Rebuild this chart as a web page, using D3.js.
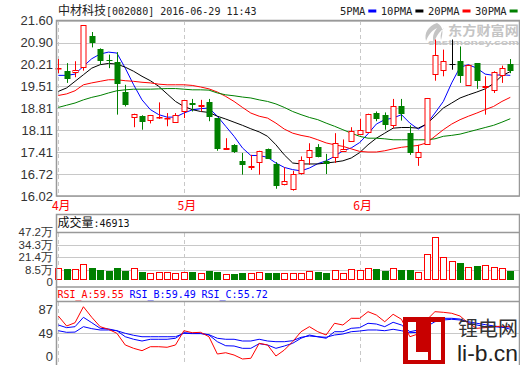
<!DOCTYPE html>
<html><head><meta charset="utf-8">
<script src="https://cdn.jsdelivr.net/npm/d3@7"></script>
<style>body{margin:0;background:#fff}svg{display:block}</style>
</head><body><svg id="c" width="520" height="365"></svg>
<script>
// ---------- data ----------
const openP  = [20.08,20.01,19.97,20.12,21.10,20.70,20.34,20.28,19.33,18.52,18.56,18.44,18.53,18.49,18.38,18.71,18.98,18.90,19.01,18.50,17.53,17.63,17.12,16.93,17.10,17.52,17.05,16.40,16.25,16.75,17.25,17.57,17.12,17.25,17.44,17.78,18.00,18.06,18.66,18.61,18.29,18.87,18.02,17.25,17.67,19.90,20.02,20.22,20.31,19.54,20.25,19.50,19.40,19.86,20.22];
const highP  = [20.38,20.25,20.31,21.45,21.24,20.72,20.52,20.60,19.56,18.64,18.59,18.60,19.00,18.66,18.66,19.07,19.11,19.08,19.11,18.50,17.86,17.67,17.39,17.33,17.46,17.53,17.10,16.93,16.82,17.28,17.70,17.67,17.36,18.02,17.82,18.21,18.48,18.64,18.71,18.68,19.11,19.11,18.27,17.65,19.14,21.00,20.68,21.00,20.78,20.20,20.25,19.83,19.99,20.17,20.38];
const lowP   = [19.93,19.62,19.80,20.01,20.75,20.20,20.09,18.61,18.87,18.21,18.13,18.33,18.47,18.24,18.38,18.50,18.71,18.71,18.40,17.46,17.53,17.39,16.70,16.85,16.70,17.21,16.25,16.36,16.19,16.70,17.01,17.25,16.72,17.07,17.44,17.74,17.97,18.06,18.40,18.13,18.18,18.42,17.33,16.98,17.65,19.69,19.83,20.04,19.62,19.54,19.43,18.61,19.30,19.62,19.93];
const closeP = [20.10,19.74,20.03,21.45,20.89,20.33,20.32,19.59,18.92,18.64,18.37,18.59,18.55,18.51,18.59,19.07,18.91,18.92,18.52,17.52,17.55,17.42,17.01,16.99,17.44,17.21,16.35,16.49,16.73,17.17,17.49,17.25,17.04,17.71,17.51,18.08,18.11,18.64,18.48,18.29,18.87,18.63,17.39,17.41,19.14,20.50,20.31,20.22,19.83,20.20,19.69,19.52,19.96,20.09,20.01];

const ma5  = [19.86,19.86,19.90,20.15,20.39,20.54,20.60,20.57,20.09,19.56,19.08,18.77,18.61,18.53,18.53,18.66,18.76,18.80,18.82,18.56,18.24,17.92,17.55,17.31,17.31,17.25,17.07,16.93,16.86,16.82,16.91,17.05,17.14,17.28,17.46,17.55,17.72,18.00,18.31,18.45,18.50,18.61,18.34,18.15,18.31,18.66,19.03,19.62,20.12,20.20,20.09,19.90,19.86,19.88,19.86];
const ma10 = [19.35,19.46,19.67,19.88,20.09,20.20,20.24,20.22,20.12,19.99,19.83,19.69,19.51,19.27,19.03,18.87,18.77,18.71,18.68,18.56,18.47,18.37,18.27,18.16,18.06,17.92,17.65,17.33,17.07,17.04,17.04,17.04,17.07,17.10,17.14,17.23,17.40,17.65,17.86,18.02,18.18,18.20,18.20,18.18,18.31,18.56,18.82,18.98,19.14,19.24,19.33,19.43,19.60,19.85,19.98];
const ma20 = [19.22,19.27,19.37,19.56,19.62,19.67,19.72,19.72,19.69,19.67,19.64,19.62,19.58,19.56,19.56,19.56,19.54,19.49,19.43,19.33,19.19,19.03,18.84,18.66,18.56,18.50,18.34,18.15,18.02,17.95,17.90,17.81,17.71,17.65,17.60,17.52,17.44,17.42,17.42,17.46,17.52,17.57,17.60,17.63,17.71,17.92,18.13,18.31,18.45,18.56,18.66,18.77,18.87,19.03,19.16];
const ma30 = [18.84,18.91,18.98,19.08,19.16,19.22,19.30,19.37,19.40,19.42,19.42,19.42,19.43,19.44,19.44,19.42,19.40,19.40,19.39,19.30,19.24,19.21,19.17,19.14,19.08,19.03,18.95,18.84,18.71,18.61,18.52,18.45,18.34,18.24,18.13,18.02,17.92,17.86,17.86,17.84,17.81,17.81,17.81,17.81,17.81,17.84,17.92,17.95,17.99,18.06,18.13,18.20,18.27,18.37,18.48];

// volume in 万
const volume = [10.4,9.7,9.7,14.4,10.7,8.6,7.9,10.7,7.9,10.4,6.9,5.9,6.6,6.6,5.9,6.6,6.9,5.9,7.9,6.9,4.6,4.6,5.9,5.9,6.9,5.9,5.9,5.9,5.9,5.9,7.9,6.9,5.9,8.6,5.9,9.7,8.6,10.7,9.7,7.9,10.7,8.6,8.6,6.6,24.9,41.8,21.5,17.5,16.1,11.7,12.7,13.7,11.7,10.7,7.9];

const rsiA = [76.9,60.8,66.1,91.9,74.8,59.7,55.5,49,30.2,24.8,21,27.4,27.4,26.5,30.2,53.2,50,50.6,43.5,15.6,17.7,14,7.6,8.7,32.9,30.2,12.4,22,35.5,51.6,59.7,51.6,46.3,65.2,62.4,73.2,73.2,83.9,78.5,67.7,79.7,71.6,43.5,48,70.5,83.9,82.9,81.3,76.9,65.2,57.1,58.1,59.7,60.5,59.55];
const rsiB = [62.4,58.1,59.7,74.8,66.1,57.1,56,53.2,43.5,39.4,36.6,39.4,39.4,39.4,41,50,49,49,46.3,35.5,29,28.5,24.8,24.8,32.3,30.2,24.8,28.5,32.9,41,46.3,43.5,41,51.6,51.6,57.1,58.1,65.2,64,59.7,66.8,62.4,51.6,54.4,67.7,72,73.2,73.2,72,66.1,62.4,59.7,59.7,58.7,59.49];
const rsiC = [53.2,50.6,51,59.7,56.5,54.4,54.4,53.2,49,45.8,43.5,43.5,43.5,43.5,43.5,49,48.5,48.5,46.8,41,39.4,39.4,36.6,36.6,39.4,36.6,35.5,35.5,37.1,42.6,44.7,43.5,42.6,46.3,47.9,51.6,52.7,54.4,54.4,53.2,55.5,53.2,50,50.6,60,67.7,70.5,71.6,70.5,67.7,65.2,63,61,59,55.72];

const priceTicks = [21.60,20.90,20.21,19.51,18.81,18.11,17.41,16.72,16.02];
const volTicks = [47.2,34.3,21.4,8.5,0];
const volTickLabels = ["47.2万","34.3万","21.4万","8.5万","0"];
const rsiTicks = [87,49,0];
const monthIdx = [0,15,36];
const monthLabels = ["4月","5月","6月"];
const maNames = ["5PMA","10PMA","20PMA","30PMA"];
const maColors = ["#0000ff","#000000","#ff0000","#008000"];
const stockTitle = ["中材科技","[002080] 2016-06-29 11:43"];
const volTitle = ["成交量",":46913"];
const rsiNames = ["RSI_A","RSI_B","RSI_C"];
const rsiLast = ["59.55","59.49","55.72"];
const rsiColors = ["#ff0000","#0000ff","#0000ff"];

// ---------- layout ----------
const svg = d3.select("#c");
const L = 56.5, R = 519.5;
const CJK = "'Noto Sans CJK SC', sans-serif";
const MONO = "'DejaVu Sans Mono', monospace";
const SANS = "'Liberation Sans', Arial, sans-serif";
const n = closeP.length;
const x = d3.scaleLinear().domain([0, n-1]).range([58.3, 510.3]);
const px = i => Math.round(x(i)) + 0.5;

const yP = d3.scaleLinear().domain([16.02, 21.60]).range([196, 20.7]);
const yV = d3.scaleLinear().domain([-1.5, 47.2]).range([280, 232]);
const yR = d3.scaleLinear().domain([0, 100]).range([363.7, 301.7]);
const snap = v => Math.round(v) + 0.5;

// ---- title / legend ----
const t = svg.append("text").attr("x", 58).attr("y", 15).attr("fill", "#222");
t.append("tspan").attr("font-family", CJK).attr("font-size", 12).text(stockTitle[0]);
t.append("tspan").attr("font-family", MONO).attr("font-size", 10).text(stockTitle[1]);

let lx = 340;
maNames.forEach((nm, k) => {
  const tt = svg.append("text").attr("x", lx).attr("y", 15).attr("font-family", MONO)
    .attr("font-size", 10.5).attr("fill", "#222").text(nm);
  const w = tt.node().getComputedTextLength();
  svg.append("rect").attr("x", lx + w + 3).attr("y", 9.5).attr("width", 8).attr("height", 3).attr("fill", maColors[k]);
  lx += w + 3 + 8 + 4.5;
});

// ---- watermark ----
const wm = svg.append("g").attr("fill", "#c4c4c4");
wm.append("path").attr("d", "M437,23 C428,26 424,33 426,41 C428,36 431,31 437,28 C433,33 432,38 434,43 C436,36 440,31 444,28 C441,31 440,36 441,40 C443,33 444,27 437,23 Z");
wm.append("text").attr("x", 448).attr("y", 35).attr("font-family", CJK).attr("font-weight", "bold")
  .attr("font-size", 13).attr("textLength", 71).attr("lengthAdjust", "spacingAndGlyphs").text("东方财富网");
wm.append("text").attr("x", 428).attr("y", 45).attr("font-family", SANS).attr("font-weight", "bold")
  .attr("font-size", 7.5).attr("textLength", 91).attr("lengthAdjust", "spacingAndGlyphs").text("eastmoney.com");

// ---- main panel grid ----
const g = svg.append("g");
priceTicks.forEach(p => {
  g.append("line").attr("x1", L).attr("x2", R).attr("y1", snap(yP(p))).attr("y2", snap(yP(p)))
    .attr("stroke", "#c8c8c8").attr("stroke-width", 1);
  svg.append("text").attr("x", 53).attr("y", yP(p)).attr("dy", "0.36em").attr("text-anchor", "end")
    .attr("font-family", SANS).attr("font-size", 13).attr("fill", "#333").text(p.toFixed(2));
});
function vgrid(y1, y2) {
  monthIdx.forEach(i => {
    svg.append("line").attr("x1", px(i)).attr("x2", px(i)).attr("y1", y1).attr("y2", y2)
      .attr("stroke", "#c8c8c8").attr("stroke-dasharray", "4,3");
  });
}
vgrid(21, 196);

// month labels
monthIdx.forEach((i, k) => {
  svg.append("text").attr("x", x(i) + 3).attr("y", 209.5).attr("text-anchor", "middle")
    .attr("font-family", CJK).attr("font-size", 12).attr("fill", "#ff0000").text(monthLabels[k]);
});

// ---- MA lines ----
[ma5, ma10, ma20, ma30].forEach((arr, k) => {
  svg.append("path").datum(arr)
    .attr("d", d3.line().x((d, i) => x(i)).y(d => yP(d)))
    .attr("fill", "none").attr("stroke", maColors[k]).attr("stroke-width", 1);
});

// ---- candles ----
const cg = svg.append("g");
d3.range(n).forEach(i => {
  const o = openP[i], c = closeP[i];
  const col = c > o ? "#ff0000" : (c < o ? "#008000" : "#000000");
  const cx = px(i);
  cg.append("line").attr("x1", cx).attr("x2", cx)
    .attr("y1", yP(highP[i])).attr("y2", yP(lowP[i])).attr("stroke", col);
  const top = Math.round(yP(Math.max(o, c))), bot = Math.round(yP(Math.min(o, c)));
  if (c > o) {
    cg.append("rect").attr("x", cx - 2.5).attr("y", top + 0.5).attr("width", 5)
      .attr("height", Math.max(bot - top, 0.5)).attr("fill", "#fff").attr("stroke", col);
  } else if (c < o) {
    cg.append("rect").attr("x", cx - 3).attr("y", top).attr("width", 6)
      .attr("height", Math.max(bot - top, 1)).attr("fill", col);
  } else {
    cg.append("line").attr("x1", cx - 3).attr("x2", cx + 3).attr("y1", top + 0.5).attr("y2", top + 0.5).attr("stroke", col);
  }
});

// main frame
svg.append("rect").attr("x", L).attr("y", 20.5).attr("width", R - L).attr("height", 175.5)
  .attr("fill", "none").attr("stroke", "#999").attr("stroke-width", 1.5);

// ---- volume panel ----
svg.append("text").attr("x", 57.5).attr("y", 227).attr("fill", "#111")
  .call(s => {
    s.append("tspan").attr("font-family", CJK).attr("font-size", 12).text(volTitle[0]);
    s.append("tspan").attr("font-family", MONO).attr("font-size", 10).text(volTitle[1]);
  });
volTicks.forEach((v, k) => {
  if (k > 0 && v > 0) {
    svg.append("line").attr("x1", L).attr("x2", R).attr("y1", snap(yV(v))).attr("y2", snap(yV(v)))
      .attr("stroke", "#c8c8c8");
  }
  svg.append("text").attr("x", 53).attr("y", v === 0 ? yV.range()[0] + 2.5 : yV(v)).attr("dy", "0.34em").attr("text-anchor", "end")
    .attr("font-family", SANS).attr("font-size", 11.5).attr("fill", "#333").text(volTickLabels[k]);
});
vgrid(233, 280);
const vbase = yV.range()[0];
d3.range(n).forEach(i => {
  const up = closeP[i] >= openP[i];
  const cx = px(i);
  const top = Math.round(yV(volume[i]));
  if (up) {
    svg.append("rect").attr("x", cx - 3).attr("y", top + 0.5).attr("width", 6).attr("height", vbase - top - 1)
      .attr("fill", "#fff").attr("stroke", "#ff0000");
  } else {
    svg.append("rect").attr("x", cx - 3.5).attr("y", top).attr("width", 7).attr("height", vbase - top)
      .attr("fill", "#008000");
  }
});
svg.append("line").attr("x1", L).attr("x2", R).attr("y1", snap(yV(47.2))).attr("y2", snap(yV(47.2)))
  .attr("stroke", "#999").attr("stroke-width", 1.5);
svg.append("rect").attr("x", L).attr("y", 214.5).attr("width", R - L).attr("height", 72.5)
  .attr("fill", "none").attr("stroke", "#999").attr("stroke-width", 1.5);

// ---- RSI panel ----
const rt = svg.append("text").attr("y", 297.5).attr("font-family", MONO).attr("font-size", 10);
rsiNames.forEach((nm, k) => {
  rt.append("tspan").attr("x", 57.5 + k * 72).attr("fill", rsiColors[k]).text(nm + ":" + rsiLast[k]);
});
svg.append("line").attr("x1", L).attr("x2", R).attr("y1", snap(yR(49))).attr("y2", snap(yR(49))).attr("stroke", "#c8c8c8");
rsiTicks.forEach(v => {
  svg.append("text").attr("x", 53).attr("y", Math.min(yR(v), 356)).attr("dy", "0.36em").attr("text-anchor", "end")
    .attr("font-family", SANS).attr("font-size", 13).attr("fill", "#333").text(v);
});
vgrid(302, 365);
[rsiC, rsiB, rsiA].forEach((arr, k) => {
  svg.append("path").datum(arr)
    .attr("d", d3.line().x((d, i) => x(i)).y(d => yR(d)))
    .attr("fill", "none").attr("stroke", [rsiColors[2], rsiColors[1], rsiColors[0]][k]).attr("stroke-width", 1);
});
svg.append("line").attr("x1", L).attr("x2", R).attr("y1", 301.5).attr("y2", 301.5).attr("stroke", "#999").attr("stroke-width", 1.5);
svg.append("path").attr("d", `M${L},287 V365 M${R},287 V365`).attr("stroke", "#999").attr("stroke-width", 1.5);

// ---- li-b.cn logo ----
svg.append("path").attr("fill", "#c80000").attr("fill-rule", "evenodd")
  .attr("d", "M403,317 H445 V364 H403 Z M408,322 V360 H428 V352 H416 V322 Z M431,322 V360 H441 V322 Z");
svg.append("text").attr("x", 458).attr("y", 336).attr("font-family", CJK).attr("font-size", 20)
  .attr("fill", "#333").attr("textLength", 60).text("锂电网");
svg.append("text").attr("x", 457).attr("y", 361).attr("font-family", SANS).attr("font-size", 22)
  .attr("fill", "#222").attr("textLength", 61).attr("lengthAdjust", "spacingAndGlyphs").text("li-b.cn");
</script></body></html>
